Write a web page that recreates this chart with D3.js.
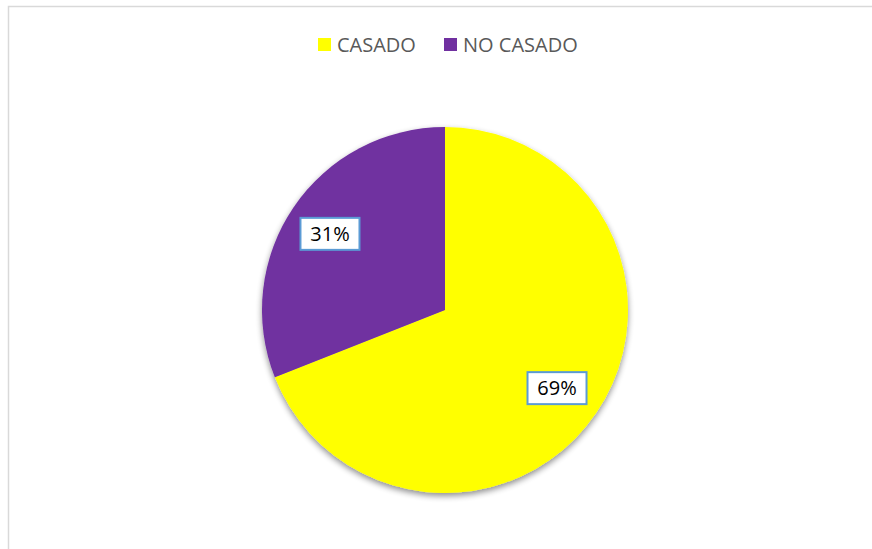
<!DOCTYPE html>
<html>
<head>
<meta charset="utf-8">
<script src="https://cdn.jsdelivr.net/npm/d3@7"></script>
<style>
  body { margin: 0; background: #fff; }
  text { font-family: "Open Sans", "Liberation Sans", sans-serif; }
</style>
</head>
<body>
<div id="chart-area"></div>
<script>
// chart data
const categories = ["CASADO", "NO CASADO"];
const values = [69, 31];
const labels = ["69%", "31%"];
const colors = ["#FFFF00", "#7030A0"];

const totalWidth = 872, totalHeight = 549;
const cx = 445, cy = 310, radius = 183;

let svg = d3.select("#chart-area").append("svg")
            .attr("width", totalWidth)
            .attr("height", totalHeight);

// chart frame
svg.append("rect")
   .attr("x", 8.5).attr("y", 6.5)
   .attr("width", 900).attr("height", 600)
   .attr("fill", "#fff")
   .attr("stroke", "#d9d9d9")
   .attr("stroke-width", 1.5);

// soft shadow like the office pie
let defs = svg.append("defs");
let filter = defs.append("filter").attr("id", "shadow")
                 .attr("x", "-20%").attr("y", "-20%")
                 .attr("width", "140%").attr("height", "140%");
filter.append("feGaussianBlur").attr("in", "SourceAlpha").attr("stdDeviation", 3);
filter.append("feOffset").attr("dx", 0).attr("dy", 3).attr("result", "blur");
filter.append("feComponentTransfer").append("feFuncA").attr("type", "linear").attr("slope", 0.45);
let merge = filter.append("feMerge");
merge.append("feMergeNode");
merge.append("feMergeNode").attr("in", "SourceGraphic");

// pie
var pie = d3.pie().sort(null).value(function(d){ return d; });
var arc = d3.arc().innerRadius(0).outerRadius(radius);
var labelArc = d3.arc().innerRadius(radius * 0.75).outerRadius(radius * 0.75);

let pieG = svg.append("g")
              .attr("transform", `translate(${cx}, ${cy})`);

pieG.append("g")
    .attr("filter", "url(#shadow)")
    .selectAll("path")
    .data(pie(values))
    .enter()
    .append("path")
    .attr("d", arc)
    .attr("fill", function(d, i){ return colors[i]; });

// data labels with boxes
let lbl = pieG.selectAll(".lbl")
              .data(pie(values))
              .enter()
              .append("g")
              .attr("class", "lbl")
              .attr("transform", function(d){
                  var c = labelArc.centroid(d);
                  return `translate(${c[0] - 1.5}, ${c[1] + 1})`;
              });

lbl.append("rect")
   .attr("x", -29.5).attr("y", -16)
   .attr("width", 59).attr("height", 32)
   .attr("fill", "#fff")
   .attr("stroke", "#5B9BD5")
   .attr("stroke-width", 2);

lbl.append("text")
   .attr("text-anchor", "middle")
   .attr("dy", "0.36em")
   .attr("font-size", "20px")
   .attr("fill", "#000")
   .text(function(d, i){ return labels[i]; });

// legend
var legendX = [318, 444];
let legend = svg.append("g")
                .selectAll("g")
                .data(categories)
                .enter()
                .append("g")
                .attr("transform", function(d, i){ return `translate(${legendX[i]}, 38)`; });

legend.append("rect")
      .attr("width", 13).attr("height", 13)
      .attr("fill", function(d, i){ return colors[i]; });

legend.append("text")
      .attr("x", 19).attr("y", 6.5)
      .attr("dy", "0.36em")
      .attr("font-size", "20px")
      .attr("fill", "#595959")
      .text(function(d){ return d; });
</script>
</body>
</html>
